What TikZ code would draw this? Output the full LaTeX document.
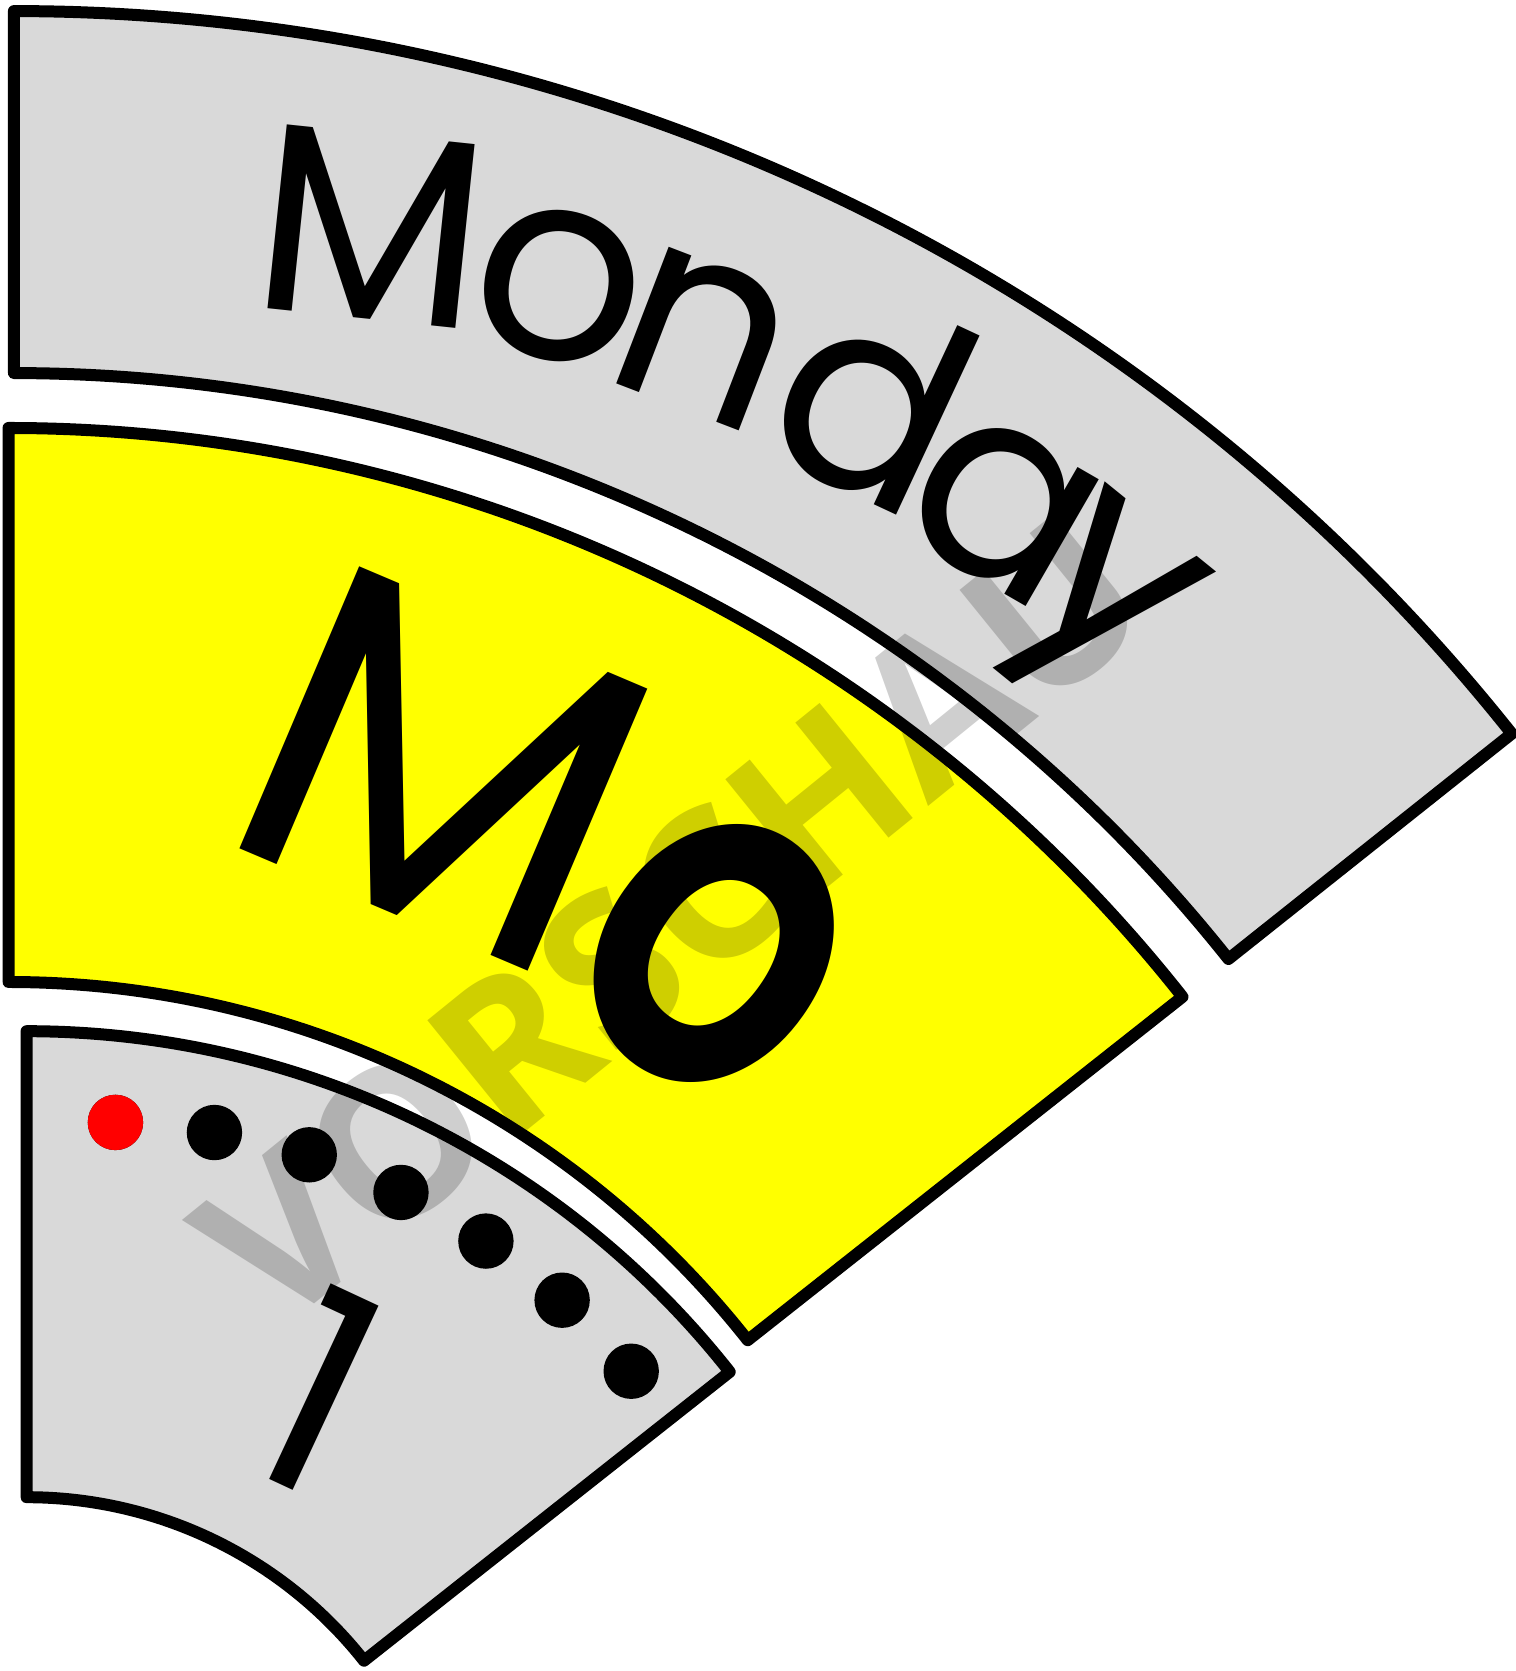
\documentclass[tikz,border=0pt]{standalone}
\usepackage{fontspec}
\setmainfont{Poppins}
\newfontfamily\markfont{Open Sans}
\usetikzlibrary{calc}
\definecolor{ink}{HTML}{000000}
\definecolor{panelgray}{HTML}{D9D9D9}
\definecolor{dayyellow}{HTML}{FFFF00}
\definecolor{dotred}{HTML}{FF0000}
\tikzset{
  sector/.style={draw=ink, line width=0.12cm, line join=round},
  letter/.style={inner sep=0pt, text=ink},
  dot/.style={circle, fill=ink, minimum size=0.554cm, inner sep=0pt},
  stamp/.style={text=black, inner sep=0pt, font=\markfont\bfseries\fontsize{59}{59}\selectfont}
}
\begin{document}
\begin{tikzpicture}
  \useasboundingbox (0,0) rectangle (15.16,16.71);
  % ring centres
  \coordinate (ctop) at (0.139,-2.541);
  \coordinate (cmid) at (0.085,-2.530);
  \coordinate (cbot) at (0.266,-2.562);

  % the three ring pieces
  \draw[sector, fill=panelgray] ($(ctop)+(90:15.52)$) -- ($(ctop)+(90:19.14)$)
    arc[start angle=90, end angle=38.5, radius=19.14] -- ($(ctop)+(38.5:15.52)$)
    arc[start angle=38.5, end angle=90, radius=15.52] -- cycle;
  \draw[sector, fill=dayyellow] ($(cmid)+(90:9.42)$) -- ($(cmid)+(90:14.96)$)
    arc[start angle=90, end angle=38.3, radius=14.96] -- ($(cmid)+(38.3:9.42)$)
    arc[start angle=38.3, end angle=90, radius=9.42] -- cycle;
  \draw[sector, fill=panelgray] ($(cbot)+(90:4.30)$) -- ($(cbot)+(90:8.96)$)
    arc[start angle=90, end angle=38.3, radius=8.96] -- ($(cbot)+(38.3:4.30)$)
    arc[start angle=38.3, end angle=90, radius=4.30] -- cycle;

  % day name
  \foreach \ch/\x/\y/\rot [count=\i] in {M/3.718/14.441/-6, o/5.593/13.844/-14,
      n/7.042/13.333/-21, d/8.747/12.742/-25, a/10.025/11.628/-30, y/10.930/10.600/-39}
    \node[letter, font=\fontsize{76}{76}\selectfont, rotate=\rot] (day\i) at (\x,\y) {\ch};

  % short name
  \node[letter, font=\fontsize{126}{126}\selectfont, rotate=-23] (shortM) at (4.440,9.020) {M};
  \node[letter, font=\bfseries\fontsize{108}{108}\selectfont, rotate=-35, xscale=0.8] (shortO) at (7.143,7.175) {O};

  % week dots
  \foreach \a/\r [count=\i] in {83.7/8.097, 76.7/8.166, 69.9/8.225, 63.0/8.246,
      56.2/8.257, 49.5/8.246, 42.6/8.214}
    \node[dot] (dot\i) at ($(cbot)+(\a:\r)$) {};
  \node[dot, fill=dotred] at (dot1) {};

  \node[letter, font=\fontsize{80}{80}\selectfont, rotate=-25] (daynum) at (3.196,2.807) {1};

  % watermark
  \begin{scope}[transparency group, opacity=0.19]
    \node[stamp, rotate=39] (preview) at (6.715,7.520) {VORSCHAU};
  \end{scope}
\end{tikzpicture}
\end{document}
